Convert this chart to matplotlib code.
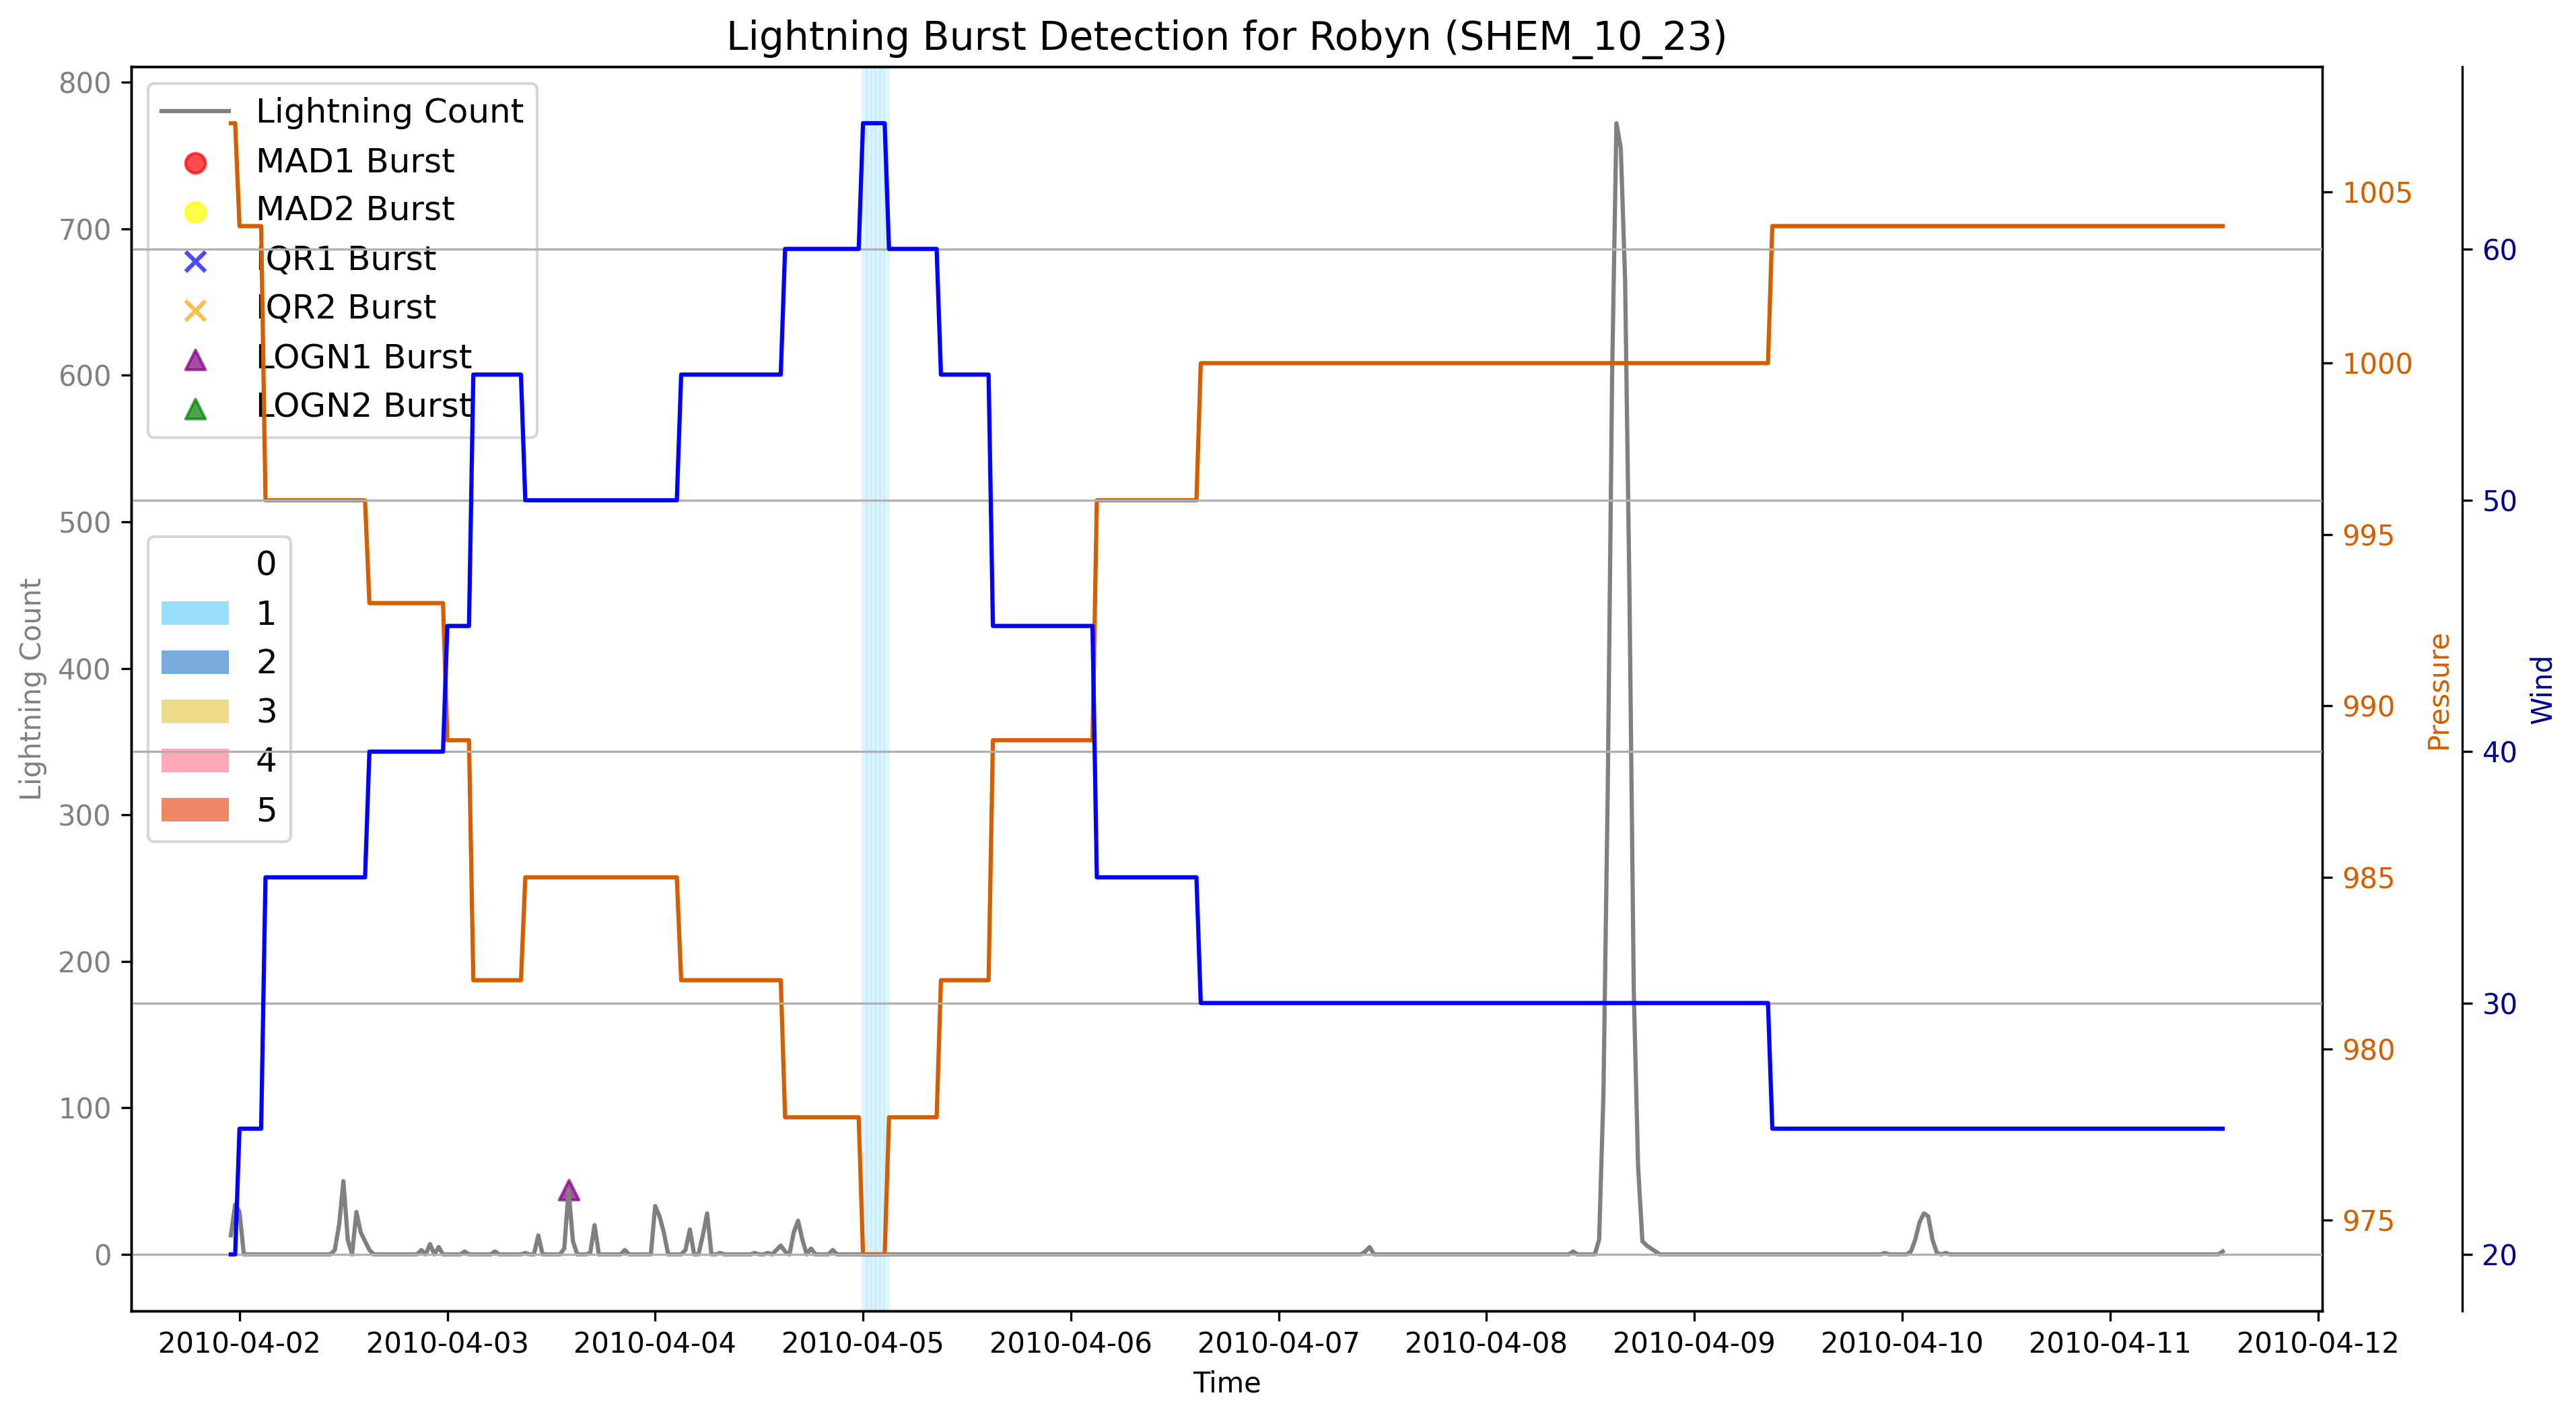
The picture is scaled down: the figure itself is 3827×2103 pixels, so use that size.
import numpy as np
import pandas as pd
import matplotlib
matplotlib.use('Agg')
import matplotlib.pyplot as plt
from matplotlib.patches import Patch

# ---------------- data ----------------
series_start = '2010-04-01 23:00'
series_end = '2010-04-11 13:00'

# best-track change points (value holds until next change)
track_times = ['2010-04-01 23:00', '2010-04-02 00:00', '2010-04-02 03:00', '2010-04-02 15:00',
               '2010-04-03 00:00', '2010-04-03 03:00', '2010-04-03 09:00', '2010-04-04 03:00',
               '2010-04-04 15:00', '2010-04-05 00:00', '2010-04-05 03:00', '2010-04-05 09:00',
               '2010-04-05 15:00', '2010-04-06 03:00', '2010-04-06 15:00', '2010-04-09 09:00']
track_wind = [20, 25, 35, 40, 45, 55, 50, 55, 60, 65, 60, 55, 45, 35, 30, 25]
track_pressure = [1007, 1004, 996, 993, 989, 982, 985, 982, 978, 974, 978, 982, 989, 996, 1000, 1004]

# non-zero lightning counts (all other 30-min steps are 0)
ltg_times = ['2010-04-01 23:00', '2010-04-01 23:30', '2010-04-02 00:00',
             '2010-04-02 11:00', '2010-04-02 11:30', '2010-04-02 12:00', '2010-04-02 12:30',
             '2010-04-02 13:30', '2010-04-02 14:00', '2010-04-02 14:30', '2010-04-02 15:00',
             '2010-04-02 21:00', '2010-04-02 22:00', '2010-04-02 23:00',
             '2010-04-03 02:00', '2010-04-03 05:30', '2010-04-03 09:00', '2010-04-03 10:30',
             '2010-04-03 13:30', '2010-04-03 14:00', '2010-04-03 14:30', '2010-04-03 16:30',
             '2010-04-03 17:00', '2010-04-03 20:30',
             '2010-04-04 00:00', '2010-04-04 00:30', '2010-04-04 01:00', '2010-04-04 03:30',
             '2010-04-04 04:00', '2010-04-04 05:30', '2010-04-04 06:00', '2010-04-04 07:30',
             '2010-04-04 11:30', '2010-04-04 13:00', '2010-04-04 14:00', '2010-04-04 14:30',
             '2010-04-04 15:00', '2010-04-04 16:00', '2010-04-04 16:30', '2010-04-04 17:00',
             '2010-04-04 18:00', '2010-04-04 20:30',
             '2010-04-07 10:00', '2010-04-07 10:30',
             '2010-04-08 10:00', '2010-04-08 13:00', '2010-04-08 13:30', '2010-04-08 14:00',
             '2010-04-08 14:30', '2010-04-08 15:00', '2010-04-08 15:30', '2010-04-08 16:00',
             '2010-04-08 16:30', '2010-04-08 17:00', '2010-04-08 17:30', '2010-04-08 18:00',
             '2010-04-08 18:30', '2010-04-08 19:00', '2010-04-08 19:30',
             '2010-04-09 22:00',
             '2010-04-10 01:00', '2010-04-10 01:30', '2010-04-10 02:00', '2010-04-10 02:30',
             '2010-04-10 03:00', '2010-04-10 03:30', '2010-04-10 04:00', '2010-04-10 05:00',
             '2010-04-11 13:00']
ltg_counts = [13, 34, 29,
              3, 20, 50, 10,
              29, 15, 9, 3,
              3, 7, 5,
              2, 2, 1, 13,
              4, 44, 9, 1,
              20, 3,
              33, 26, 15, 3,
              17, 13, 28, 1,
              1, 1, 3, 6,
              2, 15, 23, 10,
              4, 3,
              2, 5,
              2, 10, 110, 320,
              600, 772, 755, 665,
              453, 180, 60, 9,
              6, 4, 2,
              1,
              2, 10, 22, 28,
              26, 10, 1, 1,
              2]

# detected bursts
logn1_times = ['2010-04-03 14:00']
logn1_counts = [44]

category_labels = ['0', '1', '2', '3', '4', '5']
category_colors = ['#FFFFFF', '#99DDFF', '#77AADD', '#EEDD88', '#FFAABB', '#EE8866']
category_thresholds = [64, 83, 96, 113, 137]

# ---------------- build series ----------------
idx = pd.date_range(series_start, series_end, freq='30min')
ltg = pd.Series(0.0, index=idx)
ltg.loc[pd.to_datetime(ltg_times)] = ltg_counts
wind = pd.Series(track_wind, index=pd.to_datetime(track_times)).reindex(idx, method='ffill')
pres = pd.Series(track_pressure, index=pd.to_datetime(track_times)).reindex(idx, method='ffill')
cat = np.searchsorted(category_thresholds, wind.values, side='right')

P_COLOR = '#d55e00'
W_COLOR = 'darkblue'
MS = 50
MLW = 1.0

fig = plt.figure(figsize=(3827 / 300, 2103 / 300), dpi=300)
L, R, B, T = 195 / 3827, 3450 / 3827, 1 - 1947 / 2103, 1 - 99 / 2103
ax1 = fig.add_axes([L, B, R - L, T - B])

# category spans
for t, c in zip(idx, cat):
    if c > 0:
        ax1.axvspan(t - pd.Timedelta(minutes=10), t + pd.Timedelta(minutes=35),
                    color=category_colors[c], alpha=0.3, lw=0)

ax1.plot(ltg.index, ltg.values, color='gray', lw=1.5, label='Lightning Count')
ax1.scatter([], [], s=MS, linewidths=MLW, color='red', marker='o', alpha=0.7, label='MAD1 Burst')
ax1.scatter([], [], s=MS, linewidths=MLW, color='yellow', marker='o', alpha=0.7, label='MAD2 Burst')
ax1.scatter([], [], s=MS, linewidths=MLW * 1.5, color='blue', marker='x', alpha=0.7, label='IQR1 Burst')
ax1.scatter([], [], s=MS, linewidths=MLW * 1.5, color='orange', marker='x', alpha=0.7, label='IQR2 Burst')
ax1.scatter(pd.to_datetime(logn1_times), logn1_counts, s=MS, linewidths=MLW, color='purple',
            marker='^', alpha=0.7, label='LOGN1 Burst')
ax1.scatter([], [], s=MS, linewidths=MLW, color='green', marker='^', alpha=0.7, label='LOGN2 Burst')

ax1.set_xlabel('Time')
ax1.set_ylabel('Lightning Count', color='gray')
ax1.tick_params(axis='y', labelcolor='gray')
ax1.set_title('Lightning Burst Detection for Robyn (SHEM_10_23)', fontsize=14)

leg1 = ax1.legend(loc='upper left', fontsize=12)
ax1.add_artist(leg1)
cat_handles = [Patch(facecolor=col, label=lab) for col, lab in zip(category_colors, category_labels)]
ax1.legend(handles=cat_handles, loc='center left', fontsize=12)

ax2 = ax1.twinx()
ax2.plot(idx, pres.values, color=P_COLOR, lw=1.5)
ax2.set_ylabel('Pressure', color=P_COLOR)
ax2.tick_params(axis='y', labelcolor=P_COLOR)

ax3 = ax1.twinx()
ax3.spines['right'].set_position(('outward', 50))
ax3.plot(idx, wind.values, color='blue', lw=1.5)
ax3.set_ylabel('Wind', color=W_COLOR)
ax3.tick_params(axis='y', labelcolor=W_COLOR)
ax3.grid(True, axis='y')

fig.savefig('out.png', dpi=300)
